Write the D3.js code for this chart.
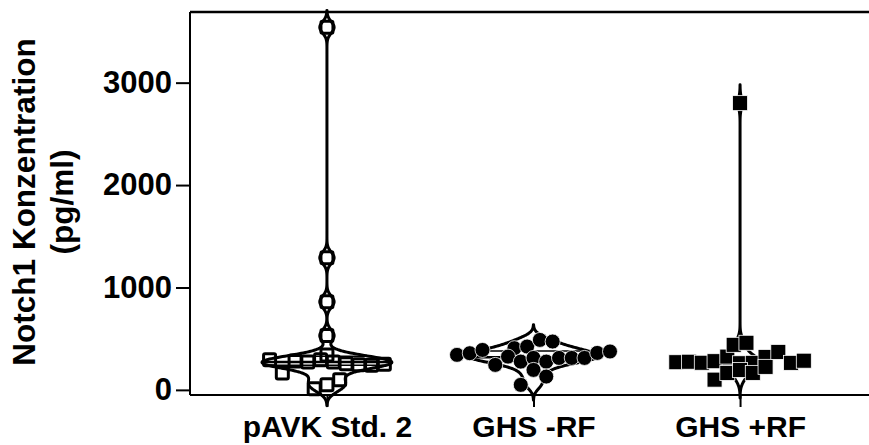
<!DOCTYPE html>
<html>
<head>
<meta charset="utf-8">
<script src="https://cdn.jsdelivr.net/npm/d3@7"></script>
<style>
  body { margin: 0; background: #fff; }
  svg { display: block; }
  text { font-family: "Liberation Sans", Arial, sans-serif; font-weight: bold; fill: #000; }
</style>
</head>
<body>
<svg id="chart" width="869" height="445"></svg>
<script>
// Groups on the x axis
const categories = ["pAVK Std. 2", "GHS -RF", "GHS +RF"];

// Notch1 concentrations (pg/ml), one array per group (listed in scatter order)
const pavkValues = [293, 165, 340, 283, 273, 10, 295, 50, 273, 100, 255, 245, 240, 250, 530, 860, 1290, 3540];
const ghsMinusValues = [342, 358, 390, 407, 244, 325, 423, 276, 49, 312, 195, 276, 130, 312, 488, 312, 472, 312, 361, 375];
const ghsPlusValues = [270, 275, 265, 280, 325, 100, 260, 165, 264, 195, 440, 166, 322, 460, 225, 371, 264, 285, 2800];

// Y axis tick values
const yTicks = [0, 1000, 2000, 3000];

// Kernel density bandwidth (pg/ml) for each violin
const kdeBandwidth = [55, 50, 60];

const groups = [pavkValues, ghsMinusValues, ghsPlusValues];

// ---- layout ----
const svg = d3.select("#chart");
const plotLeft = 190, plotBottom = 395, plotTop = 12, plotRight = 877;

const x = d3.scalePoint().domain(categories).range([plotLeft, plotRight]).padding(0.663);
const y = d3.scaleLinear().domain([-50, 3690]).range([plotBottom, plotTop]);

const violinHalfWidth = [65, 65, 20];
const symbolSize = 15;

// ---- violins ----
function density(values, h, v) {
  let s = 0;
  for (const d of values) s += Math.exp(-0.5 * ((v - d) / h) ** 2);
  return s;
}

function kde(values, h) {
  const lo = d3.min(values) - 3 * h, hi = d3.max(values) + 3 * h;
  const pts = [];
  for (let v = lo; v <= hi; v += 4) pts.push({ v, d: density(values, h, v) });
  return pts;
}

groups.forEach((vals, i) => {
  const cx = x(categories[i]);
  const h = kdeBandwidth[i];
  const dens = kde(vals, h);
  const maxD = d3.max(dens, d => d.d);
  const w = d3.scaleLinear().domain([0, maxD]).range([0, violinHalfWidth[i]]);
  const area = d3.area()
    .y(d => y(d.v))
    .x0(d => cx - w(d.d))
    .x1(d => cx + w(d.d))
    .curve(d3.curveBasis);
  svg.append("path")
    .attr("d", area(dens))
    .attr("fill", "none")
    .attr("stroke", "#000")
    .attr("stroke-width", 3)
    .attr("stroke-linejoin", "round");

  // median and quartile lines across the violin
  const sorted = vals.slice().sort(d3.ascending);
  [0.25, 0.5, 0.75].forEach(q => {
    const v = d3.quantile(sorted, q);
    const hw = w(density(vals, h, v));
    svg.append("line")
      .attr("x1", cx - hw).attr("x2", cx + hw)
      .attr("y1", y(v)).attr("y2", y(v))
      .attr("stroke", "#000")
      .attr("stroke-width", q === 0.5 ? 2.5 : 1.5);
  });
});

// ---- points: values within one symbol height share a row and are spread sideways ----
function swarm(values, cx, size) {
  const pts = values.map((v, idx) => ({ v, idx, py: y(v) }));
  const byValue = pts.slice().sort((a, b) => a.v - b.v);
  const rows = [];
  let row = null;
  for (const p of byValue) {
    if (!row || row[0].py - p.py >= size) { row = [p]; rows.push(row); }
    else row.push(p);
  }
  for (const r of rows) {
    r.sort((a, b) => a.idx - b.idx);
    const n = r.length;
    r.forEach((p, j) => { p.px = cx + (j - (n - 1) / 2) * size * 0.85; });
  }
  return pts;
}

const s = symbolSize;
// pAVK: open squares
svg.append("g").selectAll("rect")
  .data(swarm(pavkValues, x(categories[0]), s))
  .join("rect")
  .attr("x", d => d.px - s / 2 + 1.5).attr("y", d => d.py - s / 2 + 1.5)
  .attr("width", s - 3).attr("height", s - 3)
  .attr("rx", 1.5)
  .attr("fill", "none").attr("stroke", "#000").attr("stroke-width", 3);

// GHS -RF: filled circles
svg.append("g").selectAll("circle")
  .data(swarm(ghsMinusValues, x(categories[1]), s))
  .join("circle")
  .attr("cx", d => d.px).attr("cy", d => d.py).attr("r", s / 2)
  .attr("fill", "#000").attr("stroke", "#fff").attr("stroke-width", 0.8);

// GHS +RF: filled squares
svg.append("g").selectAll("rect")
  .data(swarm(ghsPlusValues, x(categories[2]), s))
  .join("rect")
  .attr("x", d => d.px - s / 2).attr("y", d => d.py - s / 2)
  .attr("width", s).attr("height", s)
  .attr("fill", "#000").attr("stroke", "#fff").attr("stroke-width", 0.8);

// ---- axes ----
const yAxis = d3.axisLeft(y).tickValues(yTicks).tickSize(14).tickPadding(4).tickFormat(d3.format("d"));
const gy = svg.append("g").attr("transform", `translate(${plotLeft},0)`).call(yAxis);
gy.select(".domain").attr("d", `M0,${plotTop}V${plotBottom}`).attr("stroke-width", 2);
gy.selectAll(".tick line").attr("stroke-width", 2);
gy.selectAll(".tick text").attr("font-size", 31).attr("font-family", null);

const xAxis = d3.axisBottom(x).tickSize(12).tickPadding(9);
const gx = svg.append("g").attr("transform", `translate(0,${plotBottom})`).call(xAxis);
gx.select(".domain").attr("d", `M${plotLeft},0H${plotRight}`).attr("stroke-width", 2);
gx.selectAll(".tick line").attr("stroke-width", 2);
gx.selectAll(".tick text").attr("font-size", 30).attr("font-family", null);

// top frame line
svg.append("line")
  .attr("x1", plotLeft).attr("x2", plotRight).attr("y1", plotTop).attr("y2", plotTop)
  .attr("stroke", "#000").attr("stroke-width", 2.5);

// y axis title
const title = svg.append("text")
  .attr("transform", "translate(0,202) rotate(-90)")
  .attr("text-anchor", "middle")
  .attr("font-size", 31.5);
title.append("tspan").attr("x", 0).attr("y", 35).text("Notch1 Konzentration");
title.append("tspan").attr("x", 0).attr("y", 73).text("(pg/ml)");
</script>
</body>
</html>
